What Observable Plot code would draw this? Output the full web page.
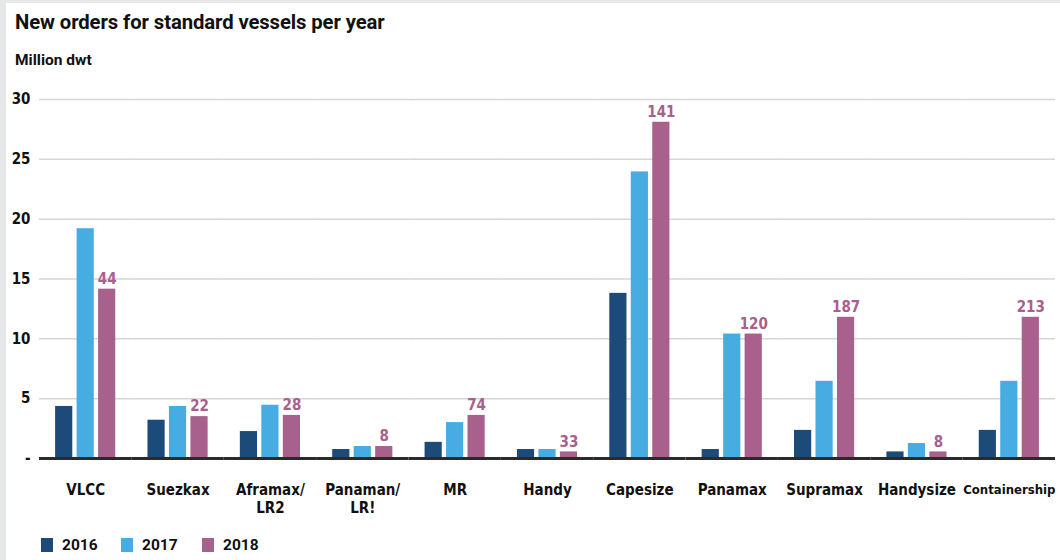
<!DOCTYPE html>
<html>
<head>
<meta charset="utf-8">
<script src="https://cdn.jsdelivr.net/npm/d3@7"></script>
<script src="https://cdn.jsdelivr.net/npm/@observablehq/plot@0.6"></script>
<style>
  html, body { margin: 0; padding: 0; }
  body { width: 1060px; height: 560px; background: #e6e7e9; position: relative; overflow: hidden; font-family: Roboto, "Open Sans", sans-serif; color: #111; }
  .panel { position: absolute; left: 6px; top: 3px; right: 0; bottom: 0; background: #fff; }
  .title { position: absolute; left: 15px; top: 10px; font-size: 20.3px; font-weight: 700; letter-spacing: -0.1px; white-space: nowrap; }
  .subtitle { position: absolute; left: 15px; top: 51px; font-size: 15.5px; font-weight: 700; white-space: nowrap; }
  #chart { position: absolute; left: 0; top: 80px; }
  .legend { position: absolute; left: 0; top: 536px; width: 400px; height: 20px; font-size: 15.5px; font-weight: 700; }
  .legend .item { position: absolute; top: 0; display: flex; align-items: center; height: 18px; }
  .legend .sw { width: 12px; height: 14px; margin-right: 9px; }
  #chart svg text { font-family: "Liberation Sans Narrow", "DejaVu Sans Condensed", sans-serif; }
</style>
</head>
<body>
<div class="panel"></div>
<div class="title">New orders for standard vessels per year</div>
<div class="subtitle">Million dwt</div>
<div id="chart"></div>
<div class="legend" id="legend"></div>
<script>
const categories = ["VLCC", "Suezkax", "Aframax/\nLR2", "Panaman/\nLR!", "MR", "Handy", "Capesize", "Panamax", "Supramax", "Handysize", "Containership"];
const years = ["2016", "2017", "2018"];
const values2016 = [4.35, 3.2, 2.25, 0.75, 1.35, 0.75, 13.8, 0.75, 2.35, 0.55, 2.35];
const values2017 = [19.2, 4.35, 4.45, 1.0, 3.0, 0.75, 23.95, 10.4, 6.45, 1.25, 6.45];
const values2018 = [14.15, 3.5, 3.6, 1.0, 3.6, 0.55, 28.1, 10.4, 11.8, 0.55, 11.8];
const labels2018 = [44, 22, 28, 8, 74, 33, 141, 120, 187, 8, 213];
const yTicks = [0, 5, 10, 15, 20, 25, 30];
const colors = ["#1c4b7a", "#46ace2", "#a8608c"];

const series = [values2016, values2017, values2018];
const rows = [];
categories.forEach((c, i) => years.forEach((y, j) => rows.push({category: c, year: y, value: series[j][i]})));
const labelRows = categories.map((c, i) => ({category: c, year: "2018", value: values2018[i], label: String(labels2018[i])}));

const chart = Plot.plot({
  width: 1060,
  height: 440,
  marginLeft: 39,
  marginRight: 5,
  marginTop: 19,
  marginBottom: 62,
  style: {fontSize: "15px", fontWeight: 700, color: "#111", background: "transparent"},
  fx: {domain: categories, paddingInner: 0, paddingOuter: 0, round: false, axis: null, label: null},
  x: {domain: years, paddingInner: 0.2, paddingOuter: 0.75, round: false, axis: null, label: null},
  y: {domain: [0, 30], ticks: yTicks, tickFormat: d => d === 0 ? "-" : String(d), tickSize: 0, tickPadding: 9, label: null},
  color: {domain: years, range: colors},
  marks: [
    Plot.ruleY(yTicks.filter(d => d > 0), {stroke: "#d6d6d6", strokeWidth: 1.5}),
    Plot.barY(rows, {fx: "category", x: "year", y: "value", fill: "year"}),
    Plot.ruleY([0], {stroke: "#2a2a2a", strokeWidth: 3}),
    Plot.text(labelRows, {fx: "category", x: "year", y: "value", text: "label", dy: -10, fill: "#a8608c", fontWeight: 700, fontSize: 15}),
    Plot.text(categories, {fx: d => d, frameAnchor: "bottom", lineAnchor: "top", dy: 24, text: d => d, fontSize: d => d === "Containership" ? 13 : 15, fontWeight: 700, fill: "#111", lineHeight: 1.2})
  ]
});
document.getElementById("chart").appendChild(chart);

const legend = document.getElementById("legend");
const legendX = [41, 121, 202];
years.forEach((y, i) => {
  const item = document.createElement("div");
  item.className = "item";
  item.style.left = legendX[i] + "px";
  const sw = document.createElement("span");
  sw.className = "sw";
  sw.style.background = colors[i];
  const t = document.createElement("span");
  t.textContent = y;
  item.appendChild(sw);
  item.appendChild(t);
  legend.appendChild(item);
});
</script>
</body>
</html>
